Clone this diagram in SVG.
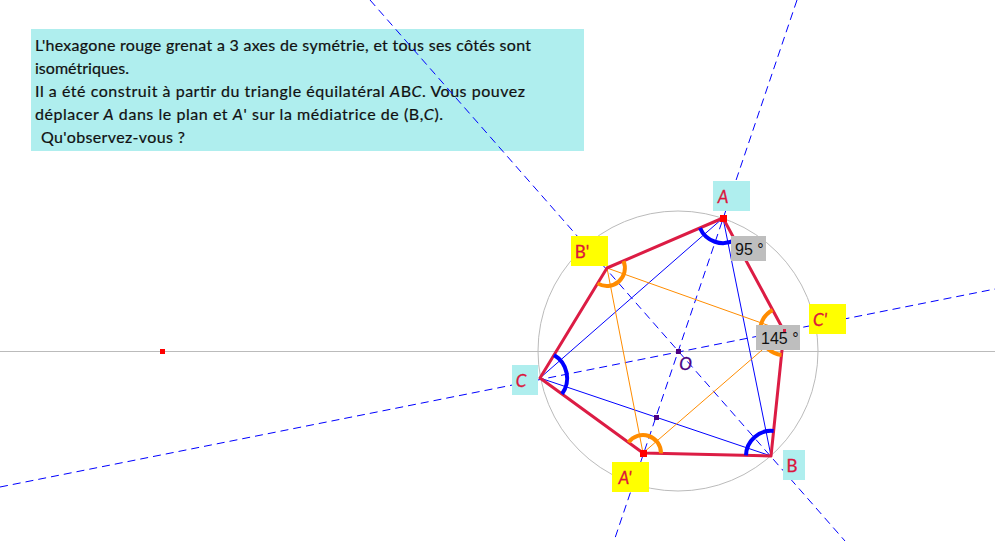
<svg xmlns="http://www.w3.org/2000/svg" width="995" height="541" viewBox="0 0 995 541">
<style>
text{font-family:"Lato","Open Sans","DejaVu Sans",sans-serif}
.body{font-size:16px;fill:#111;stroke:#111;stroke-width:.2px}
.lab{font-size:17px;fill:#dc143c;stroke:#dc143c;stroke-width:.3px;text-anchor:middle}
.val{font-family:"Liberation Sans",Arial,sans-serif;font-size:16px;fill:#111}
.it{font-style:italic}
.axis{stroke:#0000ff;stroke-width:1;stroke-dasharray:8 5;fill:none}
.tri1{stroke:#0000ff;stroke-width:1;fill:none}
.tri2{stroke:#ff8c00;stroke-width:1;fill:none}
.hex{stroke:#dc1c44;stroke-width:3;fill:none;stroke-linejoin:round}
.gray{stroke:#bbbbbb;stroke-width:1;fill:none}
.arcb{stroke:#0000ff;stroke-width:4;fill:none}
.arco{stroke:#ff8c00;stroke-width:4;fill:none}
.cyan{fill:#afeeee}
.yel{fill:#ffff00}
.grey{fill:#bebebe}
</style>
<g id="panel">
<rect class="cyan" x="31" y="29" width="553" height="122"/>
<text class="body" x="35" y="50.500" textLength="496" lengthAdjust="spacing">L'hexagone rouge grenat a 3 axes de symétrie, et tous ses côtés sont</text>
<text class="body" x="35" y="74" textLength="94" lengthAdjust="spacing">isométriques.</text>
<text class="body" x="35" y="97" textLength="490" lengthAdjust="spacing">Il a été construit à partir du triangle équilatéral <tspan class="it">A</tspan>B<tspan class="it">C</tspan>. Vous pouvez</text>
<text class="body" x="35" y="120" textLength="408" lengthAdjust="spacing">déplacer <tspan class="it">A</tspan> dans le plan et <tspan class="it">A</tspan>' sur la médiatrice de (B,<tspan class="it">C</tspan>).</text>
<text class="body" x="41" y="143" textLength="144" lengthAdjust="spacing">Qu'observez-vous ?</text>
</g>
<g id="connectors">
<line class="gray" x1="0" y1="351.500" x2="995" y2="351.500"/>
<circle class="gray" cx="678" cy="351" r="140"/>
<line class="axis" x1="797" y1="0" x2="614" y2="541"/>
<line class="axis" x1="370" y1="0" x2="845" y2="541"/>
<line class="axis" x1="0" y1="487" x2="995" y2="289"/>
<polygon class="tri1" points="723,218 771,456 540,378"/>
<polygon class="tri2" points="643,453 784,331 607,268"/>
<polygon class="hex" points="723,218 784,331 771,456 643,453 540,378 607,268"/>
<path class="arcb" d="M700,228 A25,25 0 0 0 735,240"/>
<path class="arcb" d="M554,355 A27,27 0 0 1 562,394"/>
<path class="arcb" d="M746,455.400 A25,25 0 0 1 773.600,431"/>
<path class="arco" d="M623.500,261 A18,18 0 0 1 597.600,283.400"/>
<path class="arco" d="M628.500,442.400 A18,18 0 0 1 661,453.400"/>
<path class="arco" d="M772.600,309.900 A24,24 0 0 0 781.500,354.900"/>
</g>
<g id="node-free-point"><rect x="160" y="349" width="5" height="5" fill="#ff0000"/></g>
<g id="node-O">
<rect x="676" y="349" width="5" height="5" fill="#4b0082"/>
<text x="685.500" y="370" font-size="17" fill="#4b0082" stroke="#4b0082" stroke-width=".3" text-anchor="middle" class="it">O</text>
</g>
<g id="node-mid"><rect x="654" y="415" width="5" height="5" fill="#4b0082"/></g>
<g id="node-A">
<rect x="720" y="215" width="7" height="7" fill="#ff0000"/>
<rect class="cyan" x="713" y="181" width="37" height="30"/>
<text class="lab it" x="723" y="203">A</text>
</g>
<g id="node-B">
<rect class="cyan" x="783" y="450" width="22" height="30"/>
<text class="lab" x="792" y="472">B</text>
</g>
<g id="node-C">
<rect class="cyan" x="512" y="365" width="26" height="30"/>
<text class="lab it" x="521" y="387">C</text>
</g>
<g id="node-A-prime">
<rect x="640" y="450" width="7" height="7" fill="#ff0000"/>
<rect class="yel" x="612" y="462" width="37" height="30"/>
<text class="lab it" x="625" y="484">A'</text>
</g>
<g id="node-B-prime">
<rect class="yel" x="571" y="236" width="37" height="30"/>
<text class="lab" x="582" y="258">B'</text>
</g>
<g id="node-C-prime">
<rect class="yel" x="809" y="304" width="37" height="30"/>
<text class="lab it" x="820" y="326">C'</text>
</g>
<g id="value-95">
<rect class="grey" x="731" y="236" width="35" height="25"/>
<text class="val" x="735" y="255">95 °</text>
</g>
<g id="value-145">
<rect class="grey" x="756" y="325" width="44" height="25"/>
<text class="val" x="761" y="344">145 °</text>
<rect x="783" y="329" width="3" height="3" fill="#dc1c44"/>
</g>
</svg>
